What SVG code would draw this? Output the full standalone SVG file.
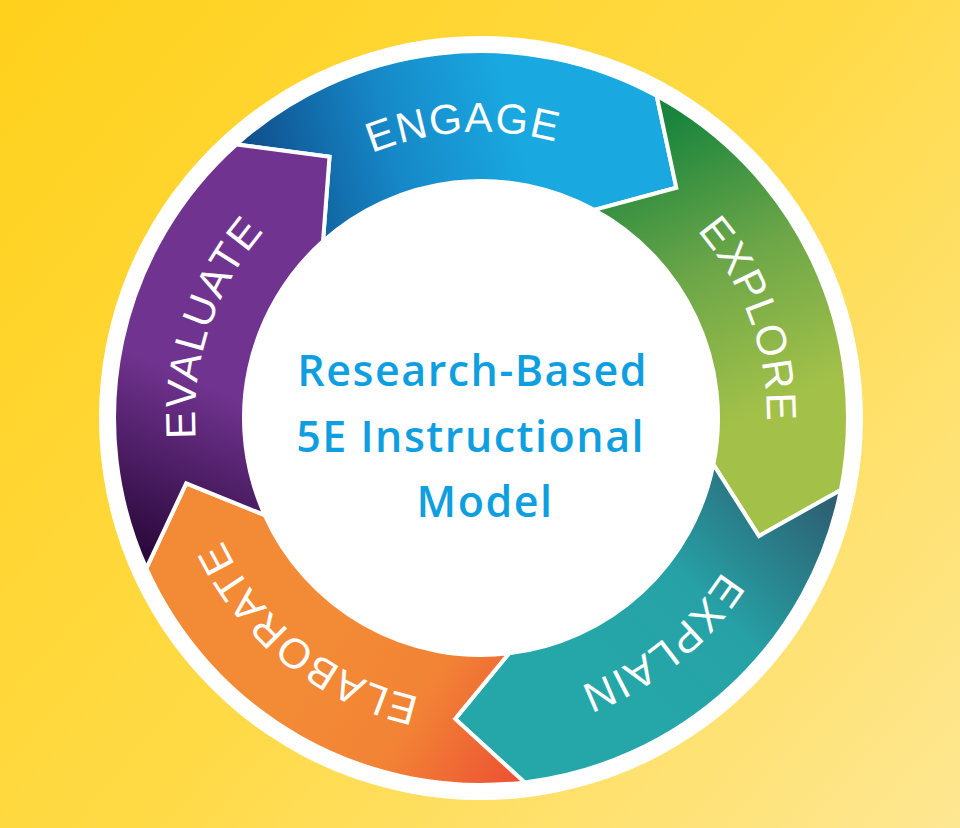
<svg xmlns="http://www.w3.org/2000/svg" xmlns:xlink="http://www.w3.org/1999/xlink" width="960" height="828" viewBox="0 0 960 828">
  <defs>
    <linearGradient id="bg" x1="0" y1="0" x2="960" y2="828" gradientUnits="userSpaceOnUse">
      <stop offset="0" stop-color="#ffd11c"/>
      <stop offset="0.5" stop-color="#ffda45"/>
      <stop offset="1" stop-color="#fee792"/>
    </linearGradient>
    <linearGradient id="gEngage" x1="250" y1="210" x2="520" y2="140" gradientUnits="userSpaceOnUse">
      <stop offset="0" stop-color="#0f4a86"/>
      <stop offset="0.55" stop-color="#1688c8"/>
      <stop offset="1" stop-color="#19a8e0"/>
    </linearGradient>
    <linearGradient id="gExplore" x1="660" y1="120" x2="790" y2="400" gradientUnits="userSpaceOnUse">
      <stop offset="0" stop-color="#18843d"/>
      <stop offset="0.5" stop-color="#6ca648"/>
      <stop offset="1" stop-color="#a3c149"/>
    </linearGradient>
    <linearGradient id="gExplain" x1="830" y1="500" x2="640" y2="690" gradientUnits="userSpaceOnUse">
      <stop offset="0" stop-color="#2d5f72"/>
      <stop offset="0.6" stop-color="#26a2a6"/>
      <stop offset="1" stop-color="#25a6a8"/>
    </linearGradient>
    <linearGradient id="gElaborate" x1="330" y1="650" x2="530" y2="770" gradientUnits="userSpaceOnUse">
      <stop offset="0" stop-color="#f38a36"/>
      <stop offset="0.45" stop-color="#f28335"/>
      <stop offset="1" stop-color="#ec5033"/>
    </linearGradient>
    <linearGradient id="gEvaluate" x1="240" y1="400" x2="170" y2="560" gradientUnits="userSpaceOnUse">
      <stop offset="0" stop-color="#70338f"/>
      <stop offset="1" stop-color="#2c0a3e"/>
    </linearGradient>
    <path id="pEngage" d="M 196.8 385.6 A 286 286 0 0 1 759.1 351.2"/>
    <path id="pExplore" d="M 431.1 136.4 A 286 286 0 0 1 624.2 665.6"/>
    <path id="pExplain" d="M 731.6 280.2 A 286 286 0 0 1 292.6 633.2"/>
    <path id="pElaborate" d="M 669.8 632.8 A 286 286 0 0 1 230.1 280.7"/>
    <path id="pEvaluate" d="M 345.0 669.6 A 286 286 0 0 1 522.8 135.1"/>
  </defs>
  <style>
    .seg { stroke: #ffffff; stroke-width: 4; stroke-linejoin: miter; }
    .lbl { font-family: "Liberation Sans", Arial, sans-serif; font-size: 42px; fill: #ffffff; letter-spacing: 1.5px; }
    .ctr { font-family: "Open Sans", "Liberation Sans", sans-serif; font-weight: 600; font-size: 43px; fill: #0f9fe0; letter-spacing: 1.5px; }
  </style>
  <rect x="0" y="0" width="960" height="828" fill="url(#bg)"/>
  <circle cx="481" cy="418" r="382" fill="#ffffff"/>

  <g id="engage">
    <path class="seg" fill="url(#gEngage)" d="M 236.4 144.4 A 367 367 0 0 1 656.7 95.8 L 676.3 187.7 L 594.5 209.9 A 237 237 0 0 0 323.0 241.3 L 329.5 156.7 Z"/>
    <text class="lbl"><textPath xlink:href="#pEngage" href="#pEngage" startOffset="50%" text-anchor="middle">ENGAGE</textPath></text>
  </g>
  <g id="explore">
    <path class="seg" fill="url(#gExplore)" d="M 656.7 95.8 A 367 367 0 0 1 840.9 489.9 L 759.0 536.0 L 713.4 464.4 A 237 237 0 0 0 594.5 209.9 L 676.3 187.7 Z"/>
    <text class="lbl"><textPath xlink:href="#pExplore" href="#pExplore" startOffset="50%" text-anchor="middle">EXPLORE</textPath></text>
  </g>
  <g id="explain">
    <path class="seg" fill="url(#gExplain)" d="M 840.9 489.9 A 367 367 0 0 1 524.5 782.4 L 455.2 718.9 L 509.1 653.3 A 237 237 0 0 0 713.4 464.4 L 759.0 536.0 Z"/>
    <text class="lbl"><textPath xlink:href="#pExplain" href="#pExplain" startOffset="50%" text-anchor="middle">EXPLAIN</textPath></text>
  </g>
  <g id="elaborate">
    <path class="seg" fill="url(#gElaborate)" d="M 524.5 782.4 A 367 367 0 0 1 146.3 568.4 L 186.2 483.4 L 264.8 515.1 A 237 237 0 0 0 509.1 653.3 L 455.2 718.9 Z"/>
    <text class="lbl"><textPath xlink:href="#pElaborate" href="#pElaborate" startOffset="50%" text-anchor="middle">ELABORATE</textPath></text>
  </g>
  <g id="evaluate">
    <path class="seg" fill="url(#gEvaluate)" d="M 146.3 568.4 A 367 367 0 0 1 236.4 144.4 L 329.5 156.7 L 323.0 241.3 A 237 237 0 0 0 264.8 515.1 L 186.2 483.4 Z"/>
    <text class="lbl"><textPath xlink:href="#pEvaluate" href="#pEvaluate" startOffset="50%" text-anchor="middle">EVALUATE</textPath></text>
  </g>

  <g id="center">
    <circle cx="481" cy="418" r="235" fill="#ffffff"/>
    <text class="ctr" text-anchor="middle">
      <tspan x="479" y="386">Research-Based</tspan>
      <tspan x="477" y="452">5E Instructional</tspan>
      <tspan x="485" y="517">Model</tspan>
    </text>
  </g>
</svg>
